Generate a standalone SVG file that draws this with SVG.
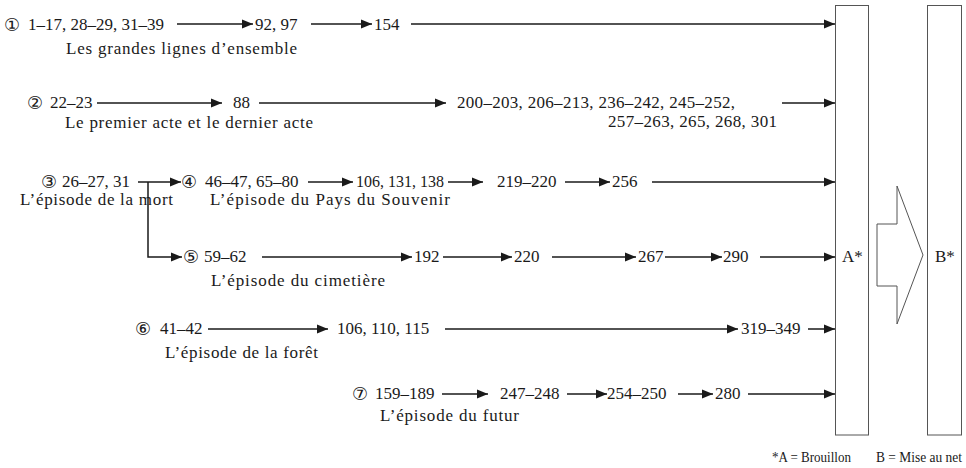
<svg xmlns="http://www.w3.org/2000/svg" width="966" height="468" viewBox="0 0 966 468">
<style>
text{font-family:"Liberation Serif","Times New Roman",serif;font-size:17px;fill:#1a1a1a}
.c{font-family:"DejaVu Sans","Noto Sans CJK JP",sans-serif;font-size:18px}
.f{font-size:14px}
.ln{stroke:#1a1a1a;stroke-width:1.5;fill:none}
.box{fill:#fff;stroke:#555;stroke-width:1}
</style>
<defs>
<marker id="ah" markerUnits="userSpaceOnUse" markerWidth="12" markerHeight="10" refX="11" refY="5" orient="auto">
<path d="M0,0.5 L11,5 L0,9.5 Z" fill="#1a1a1a"/>
</marker>
</defs>
<g id="boxA"><rect class="box" x="835.5" y="5.5" width="33" height="429.5"/><text x="842" y="262">A*</text></g>
<g id="boxB"><rect class="box" x="927.5" y="5.5" width="34" height="429.5"/><text x="935" y="262">B*</text></g>
<g id="bigArrow"><polygon class="box" points="877,224 897,224 897,186 923,255 897,324 897,286 877,286"/></g>
<g id="row1">
<text class="c" x="4" y="31">①</text>
<text x="28" y="30">1–17, 28–29, 31–39</text>
<text x="255" y="30">92, 97</text>
<text x="374" y="30">154</text>
<text x="66" y="54" textLength="231">Les grandes lignes d’ensemble</text>
</g>
<g id="row2">
<text class="c" x="27" y="109">②</text>
<text x="50" y="108">22–23</text>
<text x="233" y="108">88</text>
<text x="457" y="108" textLength="278">200–203, 206–213, 236–242, 245–252,</text>
<text x="608" y="127" textLength="169">257–263, 265, 268, 301</text>
<text x="65" y="128" textLength="248">Le premier acte et le dernier acte</text>
</g>
<g id="row3">
<text class="c" x="41" y="188">③</text>
<text x="62" y="187">26–27, 31</text>
<text x="20" y="205" textLength="153">L’épisode de la mort</text>
</g>
<g id="row4">
<text class="c" x="181" y="188">④</text>
<text x="205" y="187">46–47, 65–80</text>
<text x="356" y="187" textLength="88" lengthAdjust="spacingAndGlyphs">106, 131, 138</text>
<text x="497" y="187">219–220</text>
<text x="612" y="187">256</text>
<text x="210" y="205" textLength="240">L’épisode du Pays du Souvenir</text>
</g>
<g id="row5">
<text class="c" x="183" y="263">⑤</text>
<text x="204" y="262">59–62</text>
<text x="414" y="262">192</text>
<text x="514" y="262">220</text>
<text x="638" y="262">267</text>
<text x="723" y="262">290</text>
<text x="211" y="286" textLength="174">L’épisode du cimetière</text>
</g>
<g id="row6">
<text class="c" x="135" y="335">⑥</text>
<text x="160" y="334">41–42</text>
<text x="337" y="334">106, 110, 115</text>
<text x="741" y="334">319–349</text>
<text x="165" y="358" textLength="153">L’épisode de la forêt</text>
</g>
<g id="row7">
<text class="c" x="352" y="400">⑦</text>
<text x="375" y="399">159–189</text>
<text x="500" y="399">247–248</text>
<text x="607" y="399">254–250</text>
<text x="715" y="399">280</text>
<text x="380" y="421" textLength="139">L’épisode du futur</text>
</g>
<g id="legend">
<text class="f" x="772" y="462" textLength="79" lengthAdjust="spacingAndGlyphs">*A = Brouillon</text>
<text class="f" x="876" y="462" textLength="86" lengthAdjust="spacingAndGlyphs">B = Mise au net</text>
</g>
<g id="connectors">
<line class="ln" x1="177" y1="24" x2="253" y2="24" marker-end="url(#ah)"/>
<line class="ln" x1="311" y1="24" x2="372" y2="24" marker-end="url(#ah)"/>
<line class="ln" x1="411" y1="24" x2="835" y2="24" marker-end="url(#ah)"/>
<line class="ln" x1="97" y1="103" x2="222" y2="103" marker-end="url(#ah)"/>
<line class="ln" x1="259" y1="103" x2="446" y2="103" marker-end="url(#ah)"/>
<line class="ln" x1="782" y1="103" x2="835" y2="103" marker-end="url(#ah)"/>
<line class="ln" x1="138" y1="182" x2="181" y2="182" marker-end="url(#ah)"/>
<line class="ln" x1="308" y1="182" x2="353" y2="182" marker-end="url(#ah)"/>
<line class="ln" x1="448" y1="182" x2="483" y2="182" marker-end="url(#ah)"/>
<line class="ln" x1="565" y1="182" x2="610" y2="182" marker-end="url(#ah)"/>
<line class="ln" x1="652" y1="182" x2="835" y2="182" marker-end="url(#ah)"/>
<path class="ln" d="M148,182 V257 H182" marker-end="url(#ah)"/>
<line class="ln" x1="262" y1="257" x2="412" y2="257" marker-end="url(#ah)"/>
<line class="ln" x1="443" y1="257" x2="512" y2="257" marker-end="url(#ah)"/>
<line class="ln" x1="552" y1="257" x2="636" y2="257" marker-end="url(#ah)"/>
<line class="ln" x1="665" y1="257" x2="722" y2="257" marker-end="url(#ah)"/>
<line class="ln" x1="760" y1="257" x2="835" y2="257" marker-end="url(#ah)"/>
<line class="ln" x1="208" y1="329" x2="328" y2="329" marker-end="url(#ah)"/>
<line class="ln" x1="445" y1="329" x2="738" y2="329" marker-end="url(#ah)"/>
<line class="ln" x1="808" y1="329" x2="835" y2="329" marker-end="url(#ah)"/>
<line class="ln" x1="442" y1="394" x2="488" y2="394" marker-end="url(#ah)"/>
<line class="ln" x1="567" y1="394" x2="607" y2="394" marker-end="url(#ah)"/>
<line class="ln" x1="678" y1="394" x2="713" y2="394" marker-end="url(#ah)"/>
<line class="ln" x1="748" y1="394" x2="835" y2="394" marker-end="url(#ah)"/>
</g>
</svg>
